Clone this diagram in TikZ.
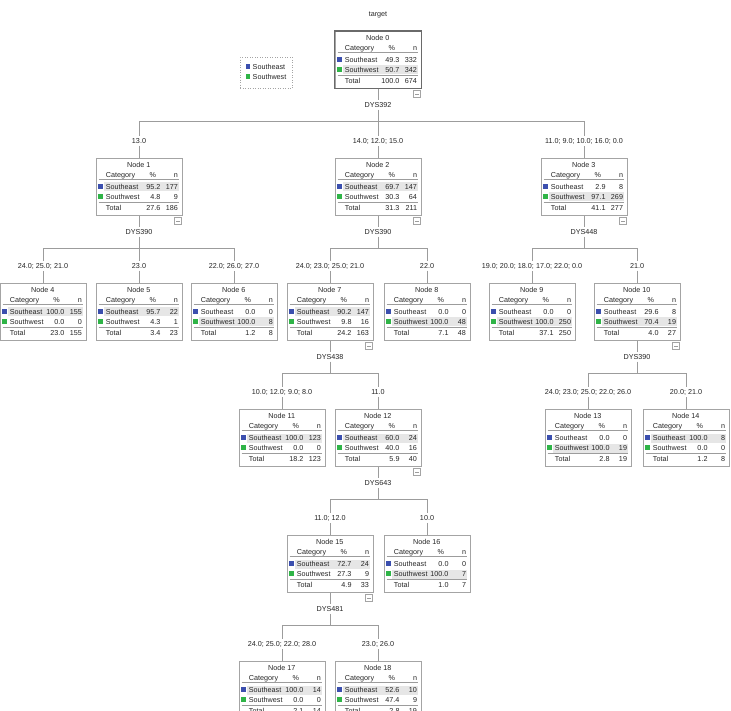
\documentclass[tikz,border=0pt]{standalone}
\usepackage{fontspec}
\setmainfont{Liberation Sans}
\usetikzlibrary{calc}
\definecolor{seblue}{HTML}{3B4FAE}
\definecolor{swgreen}{HTML}{2FB447}
\definecolor{linegray}{HTML}{9C9C9C}
\definecolor{boxgray}{HTML}{A4A4A4}
\definecolor{rowgray}{HTML}{E6E6E6}
\definecolor{txt}{HTML}{262626}
\definecolor{selgray}{HTML}{6A6A6A}
\tikzset{
  conn/.style={draw=linegray, line width=0.6pt},
  nodebox/.style={draw=boxgray, line width=0.6pt, fill=white, minimum width=86pt, minimum height=57pt, inner sep=0pt},
  txtst/.style={font=\fontsize{7.2}{8}\selectfont, text=txt, inner sep=0pt},
  splitst/.style={txtst, inner sep=2pt},
  edgest/.style={txtst, inner sep=2pt},
  colbox/.style={draw=boxgray, fill=white, line width=0.5pt, minimum width=6.5pt, minimum height=7pt, inner sep=0pt},
  rowline/.style={draw=linegray, line width=0.5pt},
  sq/.style={inner sep=0pt, minimum size=4.8pt}
}
% #1 k, #2 position, #3 shaded row, #4..#9 data
\newcommand{\SPnode}[9]{%
  \node[nodebox, anchor=north] (n#1) at #2 {};
  \ifnum#3=1\relax
    \fill[rowgray] ($(n#1.north west)+(8,24.5)$) rectangle ($(n#1.north west)+(83,33.5)$);
  \else
    \fill[rowgray] ($(n#1.north west)+(8,34.5)$) rectangle ($(n#1.north west)+(83,43.5)$);
  \fi
  \draw[rowline] ($(n#1.north west)+(3,21.5)$) -- ($(n#1.north west)+(83,21.5)$);
  \draw[rowline, line width=0.9pt] ($(n#1.north west)+(3,44)$) -- ($(n#1.north west)+(83,44)$);
  \node[txtst, anchor=mid] (n#1-t) at ($(n#1.north west)+(43,6.5)$) {Node #1};
  \node[txtst, anchor=mid west] (n#1-h1) at ($(n#1.north west)+(10,17)$) {Category};
  \node[txtst, anchor=mid] (n#1-h2) at ($(n#1.north west)+(57,17)$) {\%};
  \node[txtst, anchor=mid east] (n#1-h3) at ($(n#1.north west)+(82.5,17)$) {n};
  \node[sq, fill=seblue] (n#1-q1) at ($(n#1.north west)+(4.5,28.3)$) {};
  \node[txtst, anchor=mid west] (n#1-a1) at ($(n#1.north west)+(10,29)$) {Southeast};
  \node[txtst, anchor=mid east] (n#1-a2) at ($(n#1.north west)+(65,29)$) {#4};
  \node[txtst, anchor=mid east] (n#1-a3) at ($(n#1.north west)+(82.5,29)$) {#5};
  \node[sq, fill=swgreen] (n#1-q2) at ($(n#1.north west)+(4.5,38.3)$) {};
  \node[txtst, anchor=mid west] (n#1-b1) at ($(n#1.north west)+(10,39)$) {Southwest};
  \node[txtst, anchor=mid east] (n#1-b2) at ($(n#1.north west)+(65,39)$) {#6};
  \node[txtst, anchor=mid east] (n#1-b3) at ($(n#1.north west)+(82.5,39)$) {#7};
  \node[txtst, anchor=mid west] (n#1-c1) at ($(n#1.north west)+(10,50)$) {Total};
  \node[txtst, anchor=mid east] (n#1-c2) at ($(n#1.north west)+(65,50)$) {#8};
  \node[txtst, anchor=mid east] (n#1-c3) at ($(n#1.north west)+(82.5,50)$) {#9};
}
\newcommand{\SPcollapse}[1]{%
  \node[colbox, anchor=north east] (c#1) at ($(n#1.south east)+(-1,1.5)$) {};
  \draw[draw=linegray, line width=0.5pt] ($(c#1.center)+(-1.8,0)$) -- ($(c#1.center)+(1.8,0)$);
}
\begin{document}
\begin{tikzpicture}[x=1pt, y=-1pt]
\useasboundingbox (0,0) rectangle (731,711);
\fill[white] (0,0) rectangle (731,711);

\node[txtst] (title) at (378,15) {target};

% legend
\node[draw=boxgray, dotted, line width=0.5pt, minimum width=52pt, minimum height=31pt, inner sep=0pt, anchor=north west] (leg) at (240,57) {};
\node[sq, fill=seblue] (legq1) at (248,66.5) {};
\node[txtst, anchor=mid west] (legt1) at (252.5,67) {Southeast};
\node[sq, fill=swgreen] (legq2) at (248,76.5) {};
\node[txtst, anchor=mid west] (legt2) at (252.5,77) {Southwest};

% split labels and bar points
\node[splitst] (s0) at (378,105) {DYS392};
\coordinate (b0) at (378,121);
\node[splitst] (s1) at (139,232) {DYS390};
\coordinate (b1) at (139,248);
\node[splitst] (s2) at (378,232) {DYS390};
\coordinate (b2) at (378,248);
\node[splitst] (s3) at (584,232) {DYS448};
\coordinate (b3) at (584,248);
\node[splitst] (s7) at (330,357) {DYS438};
\coordinate (b7) at (330,373);
\node[splitst] (s10) at (637,357) {DYS390};
\coordinate (b10) at (637,373);
\node[splitst] (s12) at (378,483) {DYS643};
\coordinate (b12) at (378,499);
\node[splitst] (s15) at (330,609) {DYS481};
\coordinate (b15) at (330,625);

% edge labels
\node[edgest] (e1) at (139,141) {13.0};
\node[edgest] (e2) at (378,141) {14.0; 12.0; 15.0};
\node[edgest] (e3) at (584,141) {11.0; 9.0; 10.0; 16.0; 0.0};
\node[edgest] (e4) at (43,266) {24.0; 25.0; 21.0};
\node[edgest] (e5) at (139,266) {23.0};
\node[edgest] (e6) at (234,266) {22.0; 26.0; 27.0};
\node[edgest] (e7) at (330,266) {24.0; 23.0; 25.0; 21.0};
\node[edgest] (e8) at (427,266) {22.0};
\node[edgest] (e9) at (532,266) {19.0; 20.0; 18.0; 17.0; 22.0; 0.0};
\node[edgest] (e10) at (637,266) {21.0};
\node[edgest] (e11) at (282,392) {10.0; 12.0; 9.0; 8.0};
\node[edgest] (e12) at (378,392) {11.0};
\node[edgest] (e13) at (588,392) {24.0; 23.0; 25.0; 22.0; 26.0};
\node[edgest] (e14) at (686,392) {20.0; 21.0};
\node[edgest] (e15) at (330,518) {11.0; 12.0};
\node[edgest] (e16) at (427,518) {10.0};
\node[edgest] (e17) at (282,644) {24.0; 25.0; 22.0; 28.0};
\node[edgest] (e18) at (378,644) {23.0; 26.0};

% nodes
\SPnode{0}{(378,31)}{2}{49.3}{332}{50.7}{342}{100.0}{674}
\draw[draw=selgray, line width=1.3pt] (n0.north west) rectangle (n0.south east);
\SPnode{1}{(139,158)}{1}{95.2}{177}{4.8}{9}{27.6}{186}
\SPnode{2}{(378,158)}{1}{69.7}{147}{30.3}{64}{31.3}{211}
\SPnode{3}{(584,158)}{2}{2.9}{8}{97.1}{269}{41.1}{277}
\SPnode{4}{(43,283)}{1}{100.0}{155}{0.0}{0}{23.0}{155}
\SPnode{5}{(139,283)}{1}{95.7}{22}{4.3}{1}{3.4}{23}
\SPnode{6}{(234,283)}{2}{0.0}{0}{100.0}{8}{1.2}{8}
\SPnode{7}{(330,283)}{1}{90.2}{147}{9.8}{16}{24.2}{163}
\SPnode{8}{(427,283)}{2}{0.0}{0}{100.0}{48}{7.1}{48}
\SPnode{9}{(532,283)}{2}{0.0}{0}{100.0}{250}{37.1}{250}
\SPnode{10}{(637,283)}{2}{29.6}{8}{70.4}{19}{4.0}{27}
\SPnode{11}{(282,409)}{1}{100.0}{123}{0.0}{0}{18.2}{123}
\SPnode{12}{(378,409)}{1}{60.0}{24}{40.0}{16}{5.9}{40}
\SPnode{13}{(588,409)}{2}{0.0}{0}{100.0}{19}{2.8}{19}
\SPnode{14}{(686,409)}{1}{100.0}{8}{0.0}{0}{1.2}{8}
\SPnode{15}{(330,535)}{1}{72.7}{24}{27.3}{9}{4.9}{33}
\SPnode{16}{(427,535)}{2}{0.0}{0}{100.0}{7}{1.0}{7}
\SPnode{17}{(282,661)}{1}{100.0}{14}{0.0}{0}{2.1}{14}
\SPnode{18}{(378,661)}{1}{52.6}{10}{47.4}{9}{2.8}{19}

% collapse boxes
\SPcollapse{0}
\SPcollapse{1}
\SPcollapse{2}
\SPcollapse{3}
\SPcollapse{7}
\SPcollapse{10}
\SPcollapse{12}
\SPcollapse{15}

% connectors
\foreach \p in {0,1,2,3,7,10,12,15}{
  \draw[conn] (n\p.south) -- (s\p.north);
  \draw[conn] (s\p.south) -- (b\p);
}
\foreach \p/\c in {0/1,0/2,0/3,1/4,1/5,1/6,2/7,2/8,3/9,3/10,7/11,7/12,10/13,10/14,12/15,12/16,15/17,15/18}{
  \draw[conn] (b\p) -| (e\c.north);
  \draw[conn] (e\c.south) -- (n\c.north);
}
\end{tikzpicture}
\end{document}
